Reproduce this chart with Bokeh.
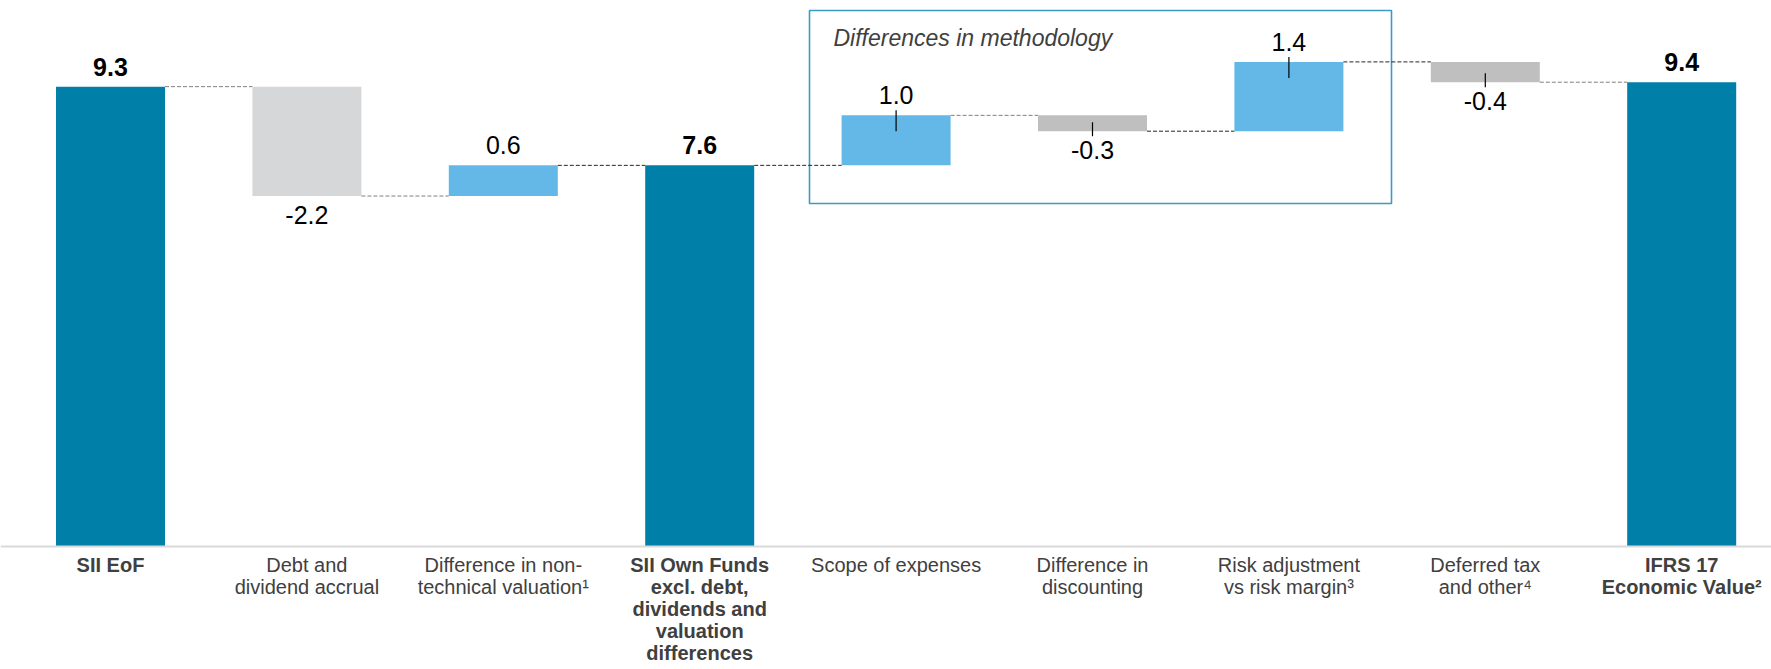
from bokeh.plotting import figure
from bokeh.models import Range1d, Span
from bokeh.core.properties import value
from bokeh.embed import file_html
from bokeh.resources import INLINE

# ---------------- data ----------------
categories = [
    "SII EoF",
    "Debt and\ndividend accrual",
    "Difference in non-\ntechnical valuation\u00b9",
    "SII Own Funds\nexcl. debt,\ndividends and\nvaluation\ndifferences",
    "Scope of expenses",
    "Difference in\ndiscounting",
    "Risk adjustment\nvs risk margin\u00b3",
    "Deferred tax\nand other\u2074",
    "IFRS 17\nEconomic Value\u00b2",
]
bar_kind = ["total", "delta", "delta", "total", "delta", "delta", "delta", "delta", "total"]
values = [9.29, -2.21, 0.62, 7.70, 1.01, -0.32, 1.40, -0.41, 9.38]
value_labels = ["9.3", "-2.2", "0.6", "7.6", "1.0", "-0.3", "1.4", "-0.4", "9.4"]
box_title = "Differences in methodology"

# ---------------- styles ----------------
bold_category = [True, False, False, True, False, False, False, False, True]
bar_colors = ["#007fa8", "#d6d7d9", "#63b8e8", "#007fa8", "#63b8e8",
              "#bfbfbf", "#63b8e8", "#bfbfbf", "#007fa8"]
connector_colors = ["#808080", "#808080", "#262626", "#262626",
                    "#808080", "#262626", "#262626", "#808080"]
tick_marks = [False, False, False, False, True, True, True, True, False]
FONT = "Liberation Sans, Arial, sans-serif"
PX_PER_UNIT = 49.5
PX_PER_CAT = 196.4
BAR_W = 0.555
AXIS_Y = 546      # pixel row of the zero line
FIRST_X = 110     # pixel column of the first category centre

# ---------------- waterfall geometry ----------------
xs = list(range(len(categories)))
bottoms, tops, ends = [], [], []
level = 0.0
for k, v in zip(bar_kind, values):
    if k == "total":
        b, t = 0.0, v
        level = v
    else:
        b, t = min(level, level + v), max(level, level + v)
        level = level + v
    bottoms.append(b)
    tops.append(t)
    ends.append(level)

W, H = 1771, 669
x0 = (0 - FIRST_X) / PX_PER_CAT
y_top = AXIS_Y / PX_PER_UNIT
y_bot = -(H - AXIS_Y) / PX_PER_UNIT


def dx(px):
    return (px - FIRST_X) / PX_PER_CAT


def dy(py):
    return (AXIS_Y - py) / PX_PER_UNIT


p = figure(width=W, height=H, output_backend="svg", toolbar_location=None,
           x_range=Range1d(x0, x0 + W / PX_PER_CAT), y_range=Range1d(y_bot, y_top),
           min_border=0, min_border_left=0, min_border_right=0,
           min_border_top=0, min_border_bottom=0)
p.axis.visible = False
p.grid.visible = False
p.outline_line_color = None
p.background_fill_color = "white"

# methodology box
p.quad(left=[dx(809)], right=[dx(1391)], top=[dy(10)], bottom=[dy(203)],
       fill_color=None, line_color="#3a9bc4", line_width=1.6)
p.text(x=[dx(833)], y=[dy(37)], text=[box_title],
       text_font=value(FONT), text_font_size="23px", text_font_style="italic",
       text_color="#404040", text_align="left", text_baseline="middle")

# bars
p.vbar(x=xs, bottom=bottoms, top=tops, width=BAR_W, fill_color=bar_colors,
       line_color=None)

# axis line
p.add_layout(Span(location=0, dimension="width", line_color="#d9d9d9", line_width=2))

# connectors
cx0 = [i + BAR_W / 2 for i in xs[:-1]]
cx1 = [i + 1 - BAR_W / 2 for i in xs[:-1]]
cy = ends[:-1]
p.segment(x0=cx0, y0=cy, x1=cx1, y1=cy, line_color=connector_colors,
          line_width=1, line_dash="4 2")

# value labels
px = 1.0 / PX_PER_UNIT
groups = {"above_bold": ([], [], []), "above": ([], [], []), "below": ([], [], [])}
tx0, ty0, ty1 = [], [], []
for i, (k, v) in enumerate(zip(bar_kind, values)):
    if k == "total":
        g = groups["above_bold"]; yv = tops[i]
    elif v >= 0:
        g = groups["above"]; yv = tops[i]
    else:
        g = groups["below"]; yv = bottoms[i]
    g[0].append(i); g[1].append(yv); g[2].append(value_labels[i])
    if tick_marks[i]:
        tx0.append(i)
        if v >= 0:
            ty0.append(tops[i] + 5 * px); ty1.append(tops[i] - 16 * px)
        else:
            ty0.append(bottoms[i] + 9 * px); ty1.append(bottoms[i] - 5 * px)

gx, gy, gt = groups["above_bold"]
p.text(x=gx, y=gy, text=gt, y_offset=-20, text_font=value(FONT), text_font_size="25px",
       text_font_style="bold", text_color="#000000", text_align="center", text_baseline="middle")
gx, gy, gt = groups["above"]
p.text(x=gx, y=gy, text=gt, y_offset=-20, text_font=value(FONT), text_font_size="25px",
       text_color="#000000", text_align="center", text_baseline="middle")
gx, gy, gt = groups["below"]
p.text(x=gx, y=gy, text=gt, y_offset=19, text_font=value(FONT), text_font_size="25px",
       text_color="#000000", text_align="center", text_baseline="middle")
p.segment(x0=tx0, y0=ty0, x1=tx0, y1=ty1, line_color="#000000", line_width=1.2)

# category labels
bx = [i for i in xs if bold_category[i]]
nx = [i for i in xs if not bold_category[i]]
p.text(x=bx, y=[0] * len(bx), text=[categories[i] for i in bx], y_offset=7,
       text_font=value(FONT), text_font_size="20px", text_font_style="bold",
       text_color="#404040", text_align="center", text_baseline="top", text_line_height=1.0)
p.text(x=nx, y=[0] * len(nx), text=[categories[i] for i in nx], y_offset=7,
       text_font=value(FONT), text_font_size="20px",
       text_color="#404040", text_align="center", text_baseline="top", text_line_height=1.0)

open("out.html", "w").write(file_html(p, INLINE))
